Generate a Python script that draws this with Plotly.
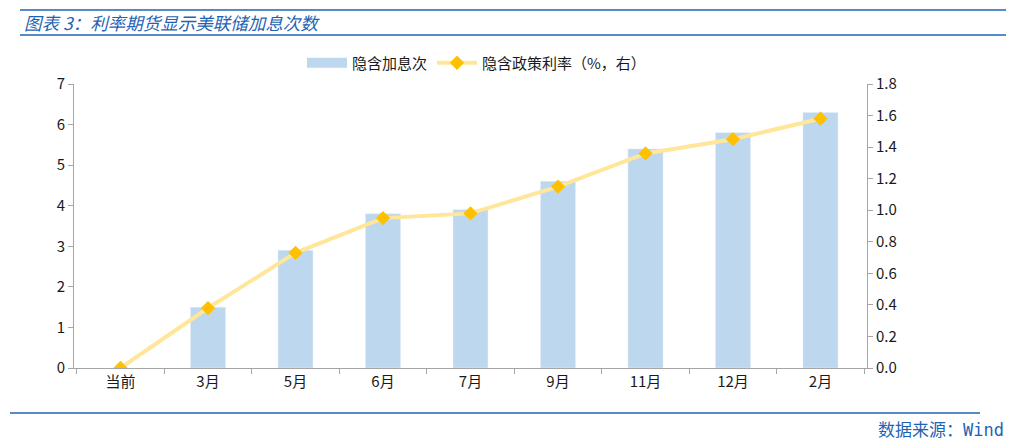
import plotly.graph_objects as go

categories = ["当前", "3月", "5月", "6月", "7月", "9月", "11月", "12月", "2月"]
hikes = [None, 1.5, 2.9, 3.8, 3.9, 4.6, 5.4, 5.8, 6.3]
rate = [0.0, 0.38, 0.73, 0.95, 0.98, 1.15, 1.36, 1.45, 1.58]

OFF = 8  # page body margin
W, H = 1022 - OFF, 448 - OFF
L, R, T, B = 74 - OFF, 867 - OFF, 84 - OFF, 368 - OFF

def px(x):
    return (x - OFF - L) / (R - L)

def py(y):
    return (B - (y - OFF)) / (B - T)

font_fam = "Microsoft YaHei, Noto Sans CJK SC, sans-serif"
blue = "#1F64B4"

fig = go.Figure()
fig.add_trace(go.Bar(
    x=categories, y=hikes, name="隐含加息次", marker_color="#BDD7EE",
    width=0.4, yaxis="y", showlegend=False))
# legend swatch for bars (wide rectangle like the reference)
fig.add_trace(go.Scatter(
    x=[None], y=[None], name="隐含加息次", mode="lines",
    line=dict(color="#BDD7EE", width=10), yaxis="y"))
fig.add_trace(go.Scatter(
    x=categories, y=rate, name="隐含政策利率（%，右）", mode="lines+markers",
    line=dict(color="#FFE699", width=4),
    marker=dict(symbol="diamond", color="#FFC000", size=11),
    yaxis="y2"))

axis_common = dict(showgrid=False, zeroline=False, showline=True,
                   linecolor="#A6A6A6", linewidth=1, ticks="outside",
                   tickcolor="#A6A6A6", ticklen=5,
                   tickfont=dict(size=15, color="#1a1a1a", family=font_fam))

fig.update_layout(
    width=W, height=H,
    margin=dict(l=L, r=W - R, t=T, b=H - B),
    paper_bgcolor="white", plot_bgcolor="white",
    font=dict(family=font_fam, size=15, color="#1a1a1a"),
    showlegend=True,
    legend=dict(orientation="h", x=0.5 + 6 / (R - L), xanchor="center", y=py(63),
                yanchor="middle", font=dict(size=15), itemwidth=40,
                bgcolor="rgba(0,0,0,0)"),
    xaxis=dict(**axis_common, tickson="boundaries"),
    yaxis=dict(**axis_common, range=[0, 7], dtick=1),
    yaxis2=dict(**axis_common, range=[0, 1.8], dtick=0.2, tickformat=".1f",
                overlaying="y", side="right"),
)

# header lines and title
fig.add_shape(type="line", xref="paper", yref="paper", x0=px(20), x1=px(1006),
              y0=py(10), y1=py(10), line=dict(color=blue, width=1.5))
fig.add_shape(type="line", xref="paper", yref="paper", x0=px(20), x1=px(1006),
              y0=py(35), y1=py(35), line=dict(color=blue, width=1.5))
fig.add_shape(type="line", xref="paper", yref="paper", x0=px(10), x1=px(980),
              y0=py(413), y1=py(413), line=dict(color=blue, width=1.5))
fig.add_annotation(xref="paper", yref="paper", x=px(22), y=py(22),
                   xanchor="left", yanchor="middle", showarrow=False,
                   text="<i>图表 3：利率期货显示美联储加息次数</i>",
                   font=dict(size=17.5, color=blue, family=font_fam))
fig.add_annotation(xref="paper", yref="paper", x=px(1006), y=py(428),
                   xanchor="right", yanchor="middle", showarrow=False,
                   text="数据来源：<span style='font-family:DejaVu Sans Mono'>Wind</span>",
                   font=dict(size=17, color=blue, family=font_fam))

fig.write_html("out.html")
